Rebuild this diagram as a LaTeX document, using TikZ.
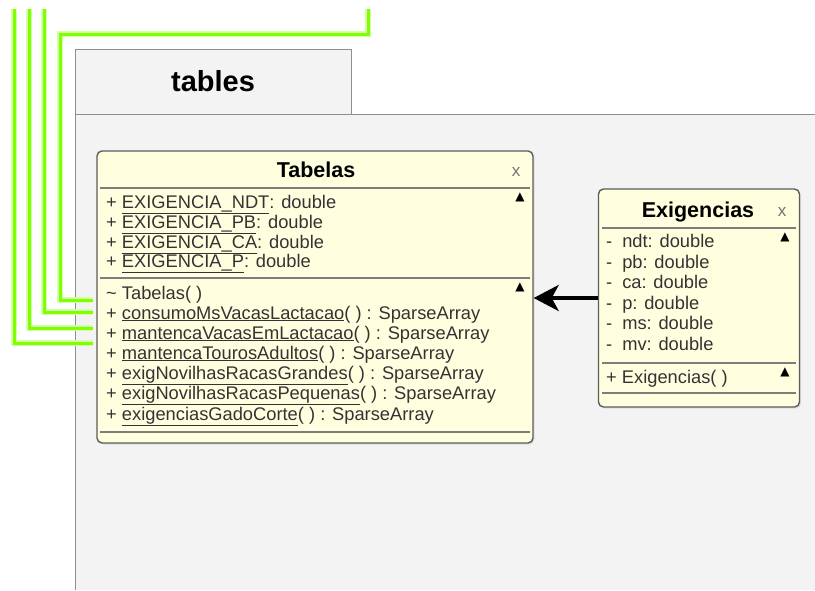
\documentclass[tikz,border=0pt]{standalone}
\usepackage{fontspec}
\setmainfont{Liberation Sans}
\newfontfamily\symfont{DejaVu Sans}
\usetikzlibrary{arrows.meta,shadows}
\definecolor{pkgfill}{HTML}{F3F3F3}
\definecolor{pkgline}{HTML}{8E8E8E}
\definecolor{classfill}{HTML}{FFFFE0}
\definecolor{classline}{HTML}{5C5C5C}
\definecolor{wire}{HTML}{80FF00}
\definecolor{membertext}{HTML}{333333}
\tikzset{
  pkgtab/.style={draw=pkgline, fill=pkgfill, line width=1pt},
  pkgbody/.style={draw=pkgline, line width=1pt},
  pkglabel/.style={font=\bfseries\fontsize{29}{29}\selectfont, anchor=base, inner sep=0pt},
  classbox/.style={draw=classline, fill=classfill, line width=1.4pt, rounded corners=5pt, inner sep=0pt,
    drop shadow={opacity=0.18, shadow xshift=1.5pt, shadow yshift=-1.5pt}},
  classtitle/.style={font=\bfseries\fontsize{21.5}{21.5}\selectfont, anchor=base, inner sep=0pt},
  closemark/.style={font=\fontsize{17}{17}\selectfont, text=black!55, anchor=base, inner sep=0pt},
  member/.style={font=\fontsize{18.3}{18.3}\selectfont, text=membertext, anchor=base west, inner sep=0pt},
  divider/.style={draw=classline!80, line width=1.8pt},
  foldmark/.style={font=\symfont\fontsize{12}{12}\selectfont, inner sep=0pt},
  wireglow/.style={draw=wire!35, line width=5.5pt, line join=miter},
  wireline/.style={draw=wire, line width=3pt, line join=miter},
  assoc/.style={line width=4pt, -{Stealth[length=25pt, width=26pt, inset=7pt]}},
}
\newcommand{\ul}[1]{\underline{#1}}

\begin{document}
\begin{tikzpicture}[x=1pt, y=-1pt]
\useasboundingbox (0,0) rectangle (815,590);
\fill[pkgfill] (75,114) rectangle (815,590);
\draw[pkgbody] (815,114) -- (75,114) -- (75,590);
\draw[pkgtab] (75,49) rectangle (351,114);
\node[pkglabel] (pkgname) at (213,91) {tables};

\coordinate (w1top) at (14,9);
\coordinate (w2top) at (29,9);
\coordinate (w3top) at (44,9);
\coordinate (w4top) at (368,9);
\coordinate (w1end) at (93,343);
\coordinate (w2end) at (93,328);
\coordinate (w3end) at (93,312);
\coordinate (w4end) at (93,300);
\draw[wireglow] (w1top) |- (w1end);
\draw[wireglow] (w2top) |- (w2end);
\draw[wireglow] (w3top) |- (w3end);
\draw[wireglow] (w4top) -- (368,34) -| (60,300) -- (w4end);
\draw[wireline] (w1top) |- (w1end);
\draw[wireline] (w2top) |- (w2end);
\draw[wireline] (w3top) |- (w3end);
\draw[wireline] (w4top) -- (368,34) -| (60,300) -- (w4end);

\node[classbox, minimum width=436pt, minimum height=292pt] (tabelas) at (315,297) {};
\node[classtitle] (tabTitle) at (316,177) {Tabelas};
\node[closemark] (tabClose) at (516,176) {x};
\draw[divider] (100,188) -- (530,188);
\draw[divider] (100,278) -- (530,278);
\draw[divider] (100,432) -- (530,432);
\node[foldmark] (tabFoldA) at (520,197) {▲};
\node[foldmark] (tabFoldB) at (520,287) {▲};
\node[member] (tabNdt) at (106,208) {+ \ul{EXIGENCIA\_NDT}: double};
\node[member] (tabPb) at (106,228) {+ \ul{EXIGENCIA\_PB}: double};
\node[member] (tabCa) at (106,248) {+ \ul{EXIGENCIA\_CA}: double};
\node[member] (tabP) at (106,267) {+ \ul{EXIGENCIA\_P}: double};
\node[member] (tabCtor) at (106,299) {\textasciitilde{} Tabelas( )};
\node[member] (tabConsumo) at (106,319) {+ \ul{consumoMsVacasLactacao}( ) : SparseArray};
\node[member] (tabVacas) at (106,339) {+ \ul{mantencaVacasEmLactacao}( ) : SparseArray};
\node[member] (tabTouros) at (106,359) {+ \ul{mantencaTourosAdultos}( ) : SparseArray};
\node[member] (tabGrandes) at (106,379) {+ \ul{exigNovilhasRacasGrandes}( ) : SparseArray};
\node[member] (tabPequenas) at (106,399) {+ \ul{exigNovilhasRacasPequenas}( ) : SparseArray};
\node[member] (tabGado) at (106,420) {+ \ul{exigenciasGadoCorte}( ) : SparseArray};

\node[classbox, minimum width=201pt, minimum height=218pt] (exig) at (699,298) {};
\node[classtitle] (exTitle) at (698,217) {Exigencias};
\node[closemark] (exClose) at (782,216) {x};
\draw[divider] (602,228) -- (796,228);
\draw[divider] (602,363) -- (796,363);
\draw[divider] (602,393) -- (796,393);
\node[foldmark] (exFoldA) at (785,237) {▲};
\node[foldmark] (exFoldB) at (785,372) {▲};
\node[member] (exNdt) at (606,247) {-\hspace{10pt}ndt: double};
\node[member] (exPb) at (606,268) {-\hspace{10pt}pb: double};
\node[member] (exCa) at (606,288) {-\hspace{10pt}ca: double};
\node[member] (exP) at (606,309) {-\hspace{10pt}p: double};
\node[member] (exMs) at (606,329) {-\hspace{10pt}ms: double};
\node[member] (exMv) at (606,350) {-\hspace{10pt}mv: double};
\node[member] (exCtor) at (606,383) {+ Exigencias( )};

\draw[assoc] (exig.west) -- (exig.west -| tabelas.east);
\end{tikzpicture}
\end{document}
